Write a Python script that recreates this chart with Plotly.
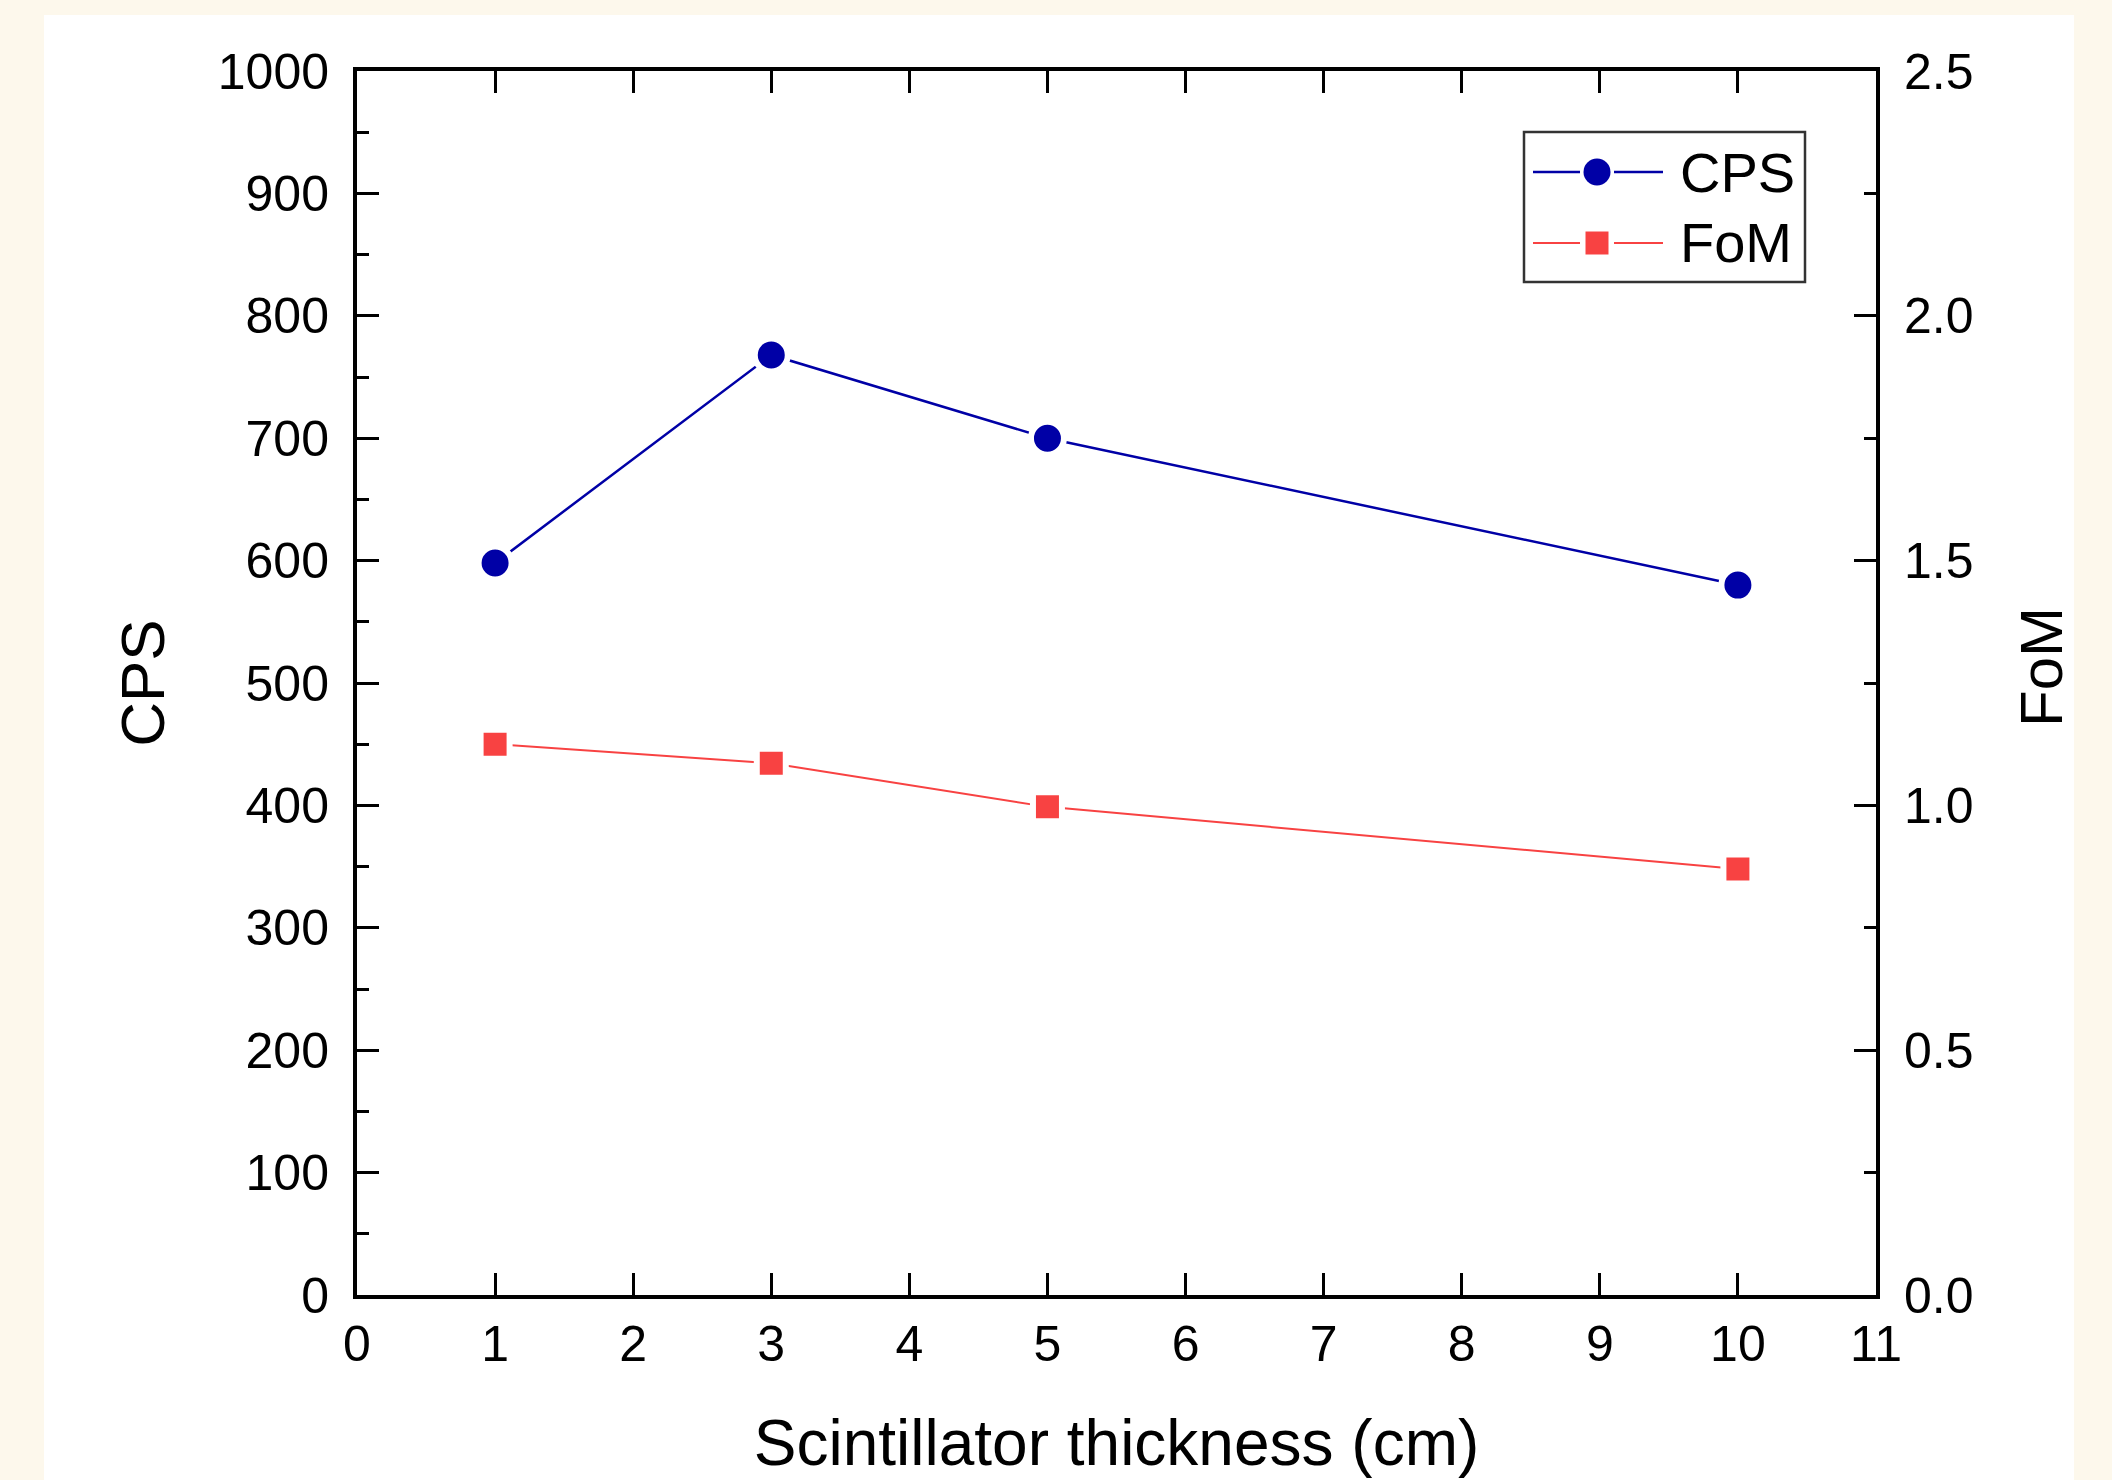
import plotly.graph_objects as go

# ---- data ----
thickness = [1, 3, 5, 10]
cps = [598, 768, 700, 580]
fom = [1.125, 1.086, 0.997, 0.870]
series_names = ["CPS", "FoM"]
x_title = "Scintillator thickness (cm)"
y_title = "CPS"
y2_title = "FoM"

# ---- layout constants (pixels) ----
W, H = 2112, 1480
PL, PR, PT, PB = 357, 1876, 71, 1295
FONT = "Arial, Liberation Sans, sans-serif"
CPS_COLOR = "#0000A6"
FOM_COLOR = "#F84242"
CREAM = "#FDF8EC"


def px(x):
    return (x - PL) / (PR - PL)


def py(y):
    return (PB - y) / (PB - PT)


fig = go.Figure()
fig.add_trace(go.Scatter(
    x=thickness, y=cps, name=series_names[0], mode="lines+markers",
    line=dict(color=CPS_COLOR, width=2.5),
    marker=dict(symbol="circle", size=33, color=CPS_COLOR,
                line=dict(color="white", width=6)),
    showlegend=False,
))
fig.add_trace(go.Scatter(
    x=thickness, y=fom, name=series_names[1], mode="lines+markers", yaxis="y2",
    line=dict(color=FOM_COLOR, width=2),
    marker=dict(symbol="square", size=29, color=FOM_COLOR,
                line=dict(color="white", width=6)),
    showlegend=False,
))

axis_common = dict(
    showline=True, linecolor="black", linewidth=4,
    ticks="inside", tickcolor="black", tickwidth=3, ticklen=22,
    showgrid=False, zeroline=False, automargin=False,
    tickfont=dict(family=FONT, size=50, color="black"),
)

shapes = [
    # white card behind the chart
    dict(type="rect", xref="paper", yref="paper", layer="below",
         x0=px(44), x1=px(2074), y0=py(H + 5), y1=py(15),
         fillcolor="white", line=dict(width=0)),
    # legend box
    dict(type="rect", xref="paper", yref="paper",
         x0=px(1524), x1=px(1805), y0=py(282), y1=py(132),
         fillcolor="rgba(0,0,0,0)", line=dict(color="#333333", width=2.5)),
]
annotations = []
legend_rows = [(172, CPS_COLOR, "circle", 27, series_names[0], 2.5),
               (243, FOM_COLOR, "square", 23, series_names[1], 2)]
for yy, col, sym, sz, label, lw in legend_rows:
    shapes.append(dict(type="line", xref="paper", yref="paper",
                       x0=px(1533), x1=px(1580), y0=py(yy), y1=py(yy),
                       line=dict(color=col, width=lw)))
    shapes.append(dict(type="line", xref="paper", yref="paper",
                       x0=px(1614), x1=px(1663), y0=py(yy), y1=py(yy),
                       line=dict(color=col, width=lw)))
    shapes.append(dict(type="circle" if sym == "circle" else "rect",
                       xref="paper", yref="paper",
                       xsizemode="pixel", ysizemode="pixel",
                       xanchor=px(1597), yanchor=py(yy),
                       x0=-sz / 2, x1=sz / 2, y0=-sz / 2, y1=sz / 2,
                       fillcolor=col, line=dict(width=0)))
    annotations.append(dict(xref="paper", yref="paper", x=px(1678), y=py(yy),
                            xanchor="left", yanchor="middle", showarrow=False,
                            text=label,
                            font=dict(family=FONT, size=56, color="black")))

# right-axis title (placed slightly above centre, as in the original)
annotations.append(dict(xref="paper", yref="paper", x=px(2041), y=py(667),
                        xanchor="center", yanchor="middle", showarrow=False,
                        textangle=-90, text=y2_title,
                        font=dict(family=FONT, size=60, color="black")))

fig.update_layout(
    width=W, height=H,
    template="none",
    paper_bgcolor=CREAM, plot_bgcolor="white",
    margin=dict(l=PL, r=W - PR, t=PT, b=H - PB, pad=0),
    font=dict(family=FONT, color="black"),
    showlegend=False,
    xaxis=dict(
        range=[0, 11], tickmode="linear", tick0=0, dtick=1,
        mirror="ticks", ticklabelstandoff=2,
        title=dict(text=x_title, font=dict(family=FONT, size=64), standoff=50),
        **axis_common,
    ),
    yaxis=dict(
        range=[0, 1000], tickmode="linear", tick0=0, dtick=100,
        minor=dict(dtick=50, ticks="inside", ticklen=12, tickwidth=3, tickcolor="black"),
        ticklabelstandoff=14,
        title=dict(text=y_title, font=dict(family=FONT, size=62), standoff=34),
        **axis_common,
    ),
    yaxis2=dict(
        range=[0, 2.5], tickmode="linear", tick0=0, dtick=0.5, tickformat=".1f",
        overlaying="y", side="right",
        minor=dict(dtick=0.25, ticks="inside", ticklen=12, tickwidth=3, tickcolor="black"),
        ticklabelstandoff=14,
        **axis_common,
    ),
    shapes=shapes,
    annotations=annotations,
)

fig.write_html("out.html", config={"displayModeBar": False},
               post_script="document.body.style.margin='0';document.body.style.overflow='hidden';")
